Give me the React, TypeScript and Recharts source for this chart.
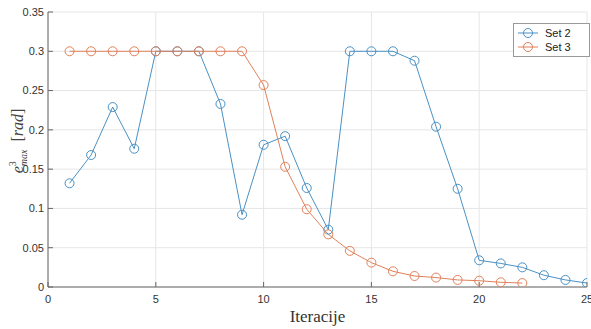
import React from "react";
import { LineChart, Line, XAxis, YAxis, CartesianGrid } from "recharts";

const iterations = [1, 2, 3, 4, 5, 6, 7, 8, 9, 10, 11, 12, 13, 14, 15, 16, 17, 18, 19, 20, 21, 22, 23, 24, 25];
const set2 = [0.132, 0.168, 0.229, 0.176, 0.3, 0.3, 0.3, 0.233, 0.092, 0.181, 0.192, 0.126, 0.073, 0.3, 0.3, 0.3, 0.288, 0.204, 0.125, 0.034, 0.03, 0.025, 0.015, 0.009, 0.005];
const set3 = [0.3, 0.3, 0.3, 0.3, 0.3, 0.3, 0.3, 0.3, 0.3, 0.257, 0.153, 0.099, 0.067, 0.046, 0.031, 0.02, 0.014, 0.012, 0.009, 0.008, 0.006, 0.005];
const xTicks = [0, 5, 10, 15, 20, 25];
const yTicks = [0, 0.05, 0.1, 0.15, 0.2, 0.25, 0.3, 0.35];
const seriesNames = ["Set 2", "Set 3"];

const BLUE = "#4a91c4";
const ORANGE = "#e2805a";

const data = iterations.map((it, i) => ({
  it,
  s2: set2[i],
  s3: i < set3.length ? set3[i] : undefined,
}));

const Marker = (color: string) => (props: any) => {
  const { cx, cy, index } = props;
  if (cx == null || cy == null || Number.isNaN(cy)) return <g key={index} />;
  return <circle key={index} cx={cx} cy={cy} r={4.5} fill="none" stroke={color} strokeWidth={1} />;
};

const YLabel = () => {
  const cx = 23;
  const cy = 141;
  return (
    <text
      transform={`translate(${cx},${cy}) rotate(-90)`}
      textAnchor="middle"
      fill="#444"
      fontFamily="Liberation Serif, serif"
      fontSize={16}
    >
      <tspan fontStyle="italic">e</tspan>
      <tspan fontSize={10} dy={-7}>3</tspan>
      <tspan fontSize={10} fontStyle="italic" dx={-5} dy={11}>max</tspan>
      <tspan dy={-4} dx={8}>[</tspan>
      <tspan fontStyle="italic">rad</tspan>
      <tspan>]</tspan>
    </text>
  );
};

const LegendBox = () => (
  <svg width={77} height={34} style={{ display: "block" }}>
    <rect x={0.5} y={0.5} width={76} height={33} fill="#fff" stroke="#999" strokeWidth={1} />
    <line x1={5} x2={25} y1={10} y2={10} stroke={BLUE} strokeWidth={1} />
    <circle cx={15} cy={10} r={4.5} fill="none" stroke={BLUE} />
    <text x={32} y={14} fontSize={11} fontFamily="Liberation Sans, Arial, sans-serif" fill="#222">{seriesNames[0]}</text>
    <line x1={5} x2={25} y1={24} y2={24} stroke={ORANGE} strokeWidth={1} />
    <circle cx={15} cy={24} r={4.5} fill="none" stroke={ORANGE} />
    <text x={32} y={28} fontSize={11} fontFamily="Liberation Sans, Arial, sans-serif" fill="#222">{seriesNames[1]}</text>
  </svg>
);

export default function App() {
  return (
    <div style={{ position: "absolute", left: 0, top: 0, width: 591, height: 329, background: "#fff" }}>
      <LineChart width={591} height={329} data={data} margin={{ top: 12, right: 4, bottom: 0, left: 0 }}>
        <CartesianGrid stroke="#e6e6e6" strokeWidth={1} />
        <XAxis
          dataKey="it"
          type="number"
          domain={[0, 25]}
          ticks={xTicks}
          interval={0}
          allowDataOverflow
          height={42}
          tick={{ fontSize: 11, fill: "#333", fontFamily: "Liberation Sans, Arial, sans-serif" }}
          stroke="#666"
          tickSize={-5}
          tickMargin={13}
          label={{ value: "Iteracije", position: "insideBottom", offset: 7, fontSize: 17, fill: "#333", fontFamily: "Liberation Serif, serif" }}
        />
        <YAxis
          type="number"
          domain={[0, 0.35]}
          ticks={yTicks}
          interval={0}
          allowDataOverflow
          width={48}
          tick={{ fontSize: 11, fill: "#333", fontFamily: "Liberation Sans, Arial, sans-serif" }}
          stroke="#666"
          tickSize={-5}
          tickMargin={9}
          label={{ content: YLabel }}
        />
        <Line
          type="linear"
          dataKey="s2"
          name={seriesNames[0]}
          stroke={BLUE}
          strokeWidth={1}
          dot={Marker(BLUE)}
          activeDot={false}
          isAnimationActive={false}
        />
        <Line
          type="linear"
          dataKey="s3"
          name={seriesNames[1]}
          stroke={ORANGE}
          strokeWidth={1}
          dot={Marker(ORANGE)}
          activeDot={false}
          isAnimationActive={false}
        />
      </LineChart>
      <div style={{ position: "absolute", left: 513, top: 23 }}>
        <LegendBox />
      </div>
    </div>
  );
}
